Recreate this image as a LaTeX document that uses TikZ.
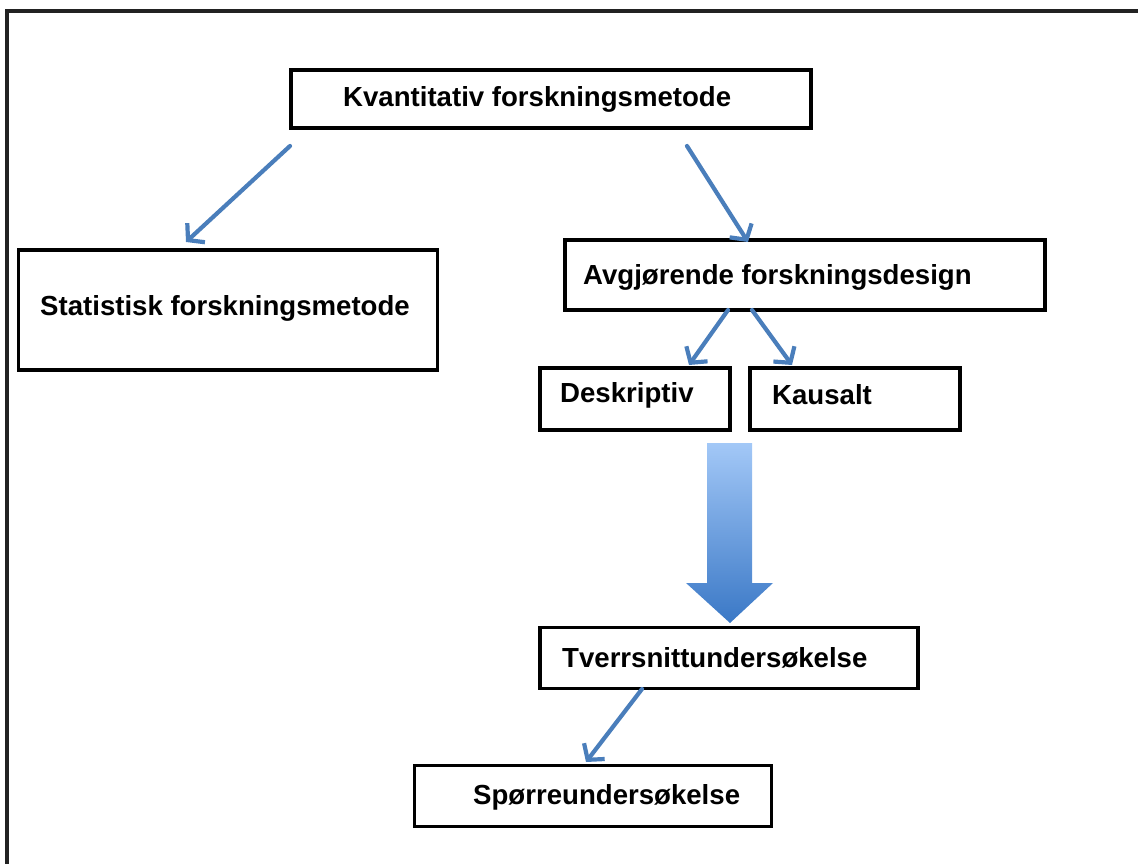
\documentclass[tikz,border=0pt]{standalone}
\usepackage{fontspec}
\setmainfont{Liberation Sans}
\usetikzlibrary{arrows.meta}
\definecolor{arrblue}{HTML}{4A7EBB}
\definecolor{fatTop}{HTML}{A3C8F7}
\definecolor{fatBot}{HTML}{3A78C6}
\definecolor{frame}{HTML}{222222}
\tikzset{
  box/.style={draw=black, line width=3.8pt, fill=white, inner sep=0pt},
  lbl/.style={anchor=west, inner sep=0pt, font=\fontsize{27.6}{31}\selectfont\bfseries},
  conn/.style={draw=arrblue, line width=4.2pt, line cap=round, -{Straight Barb[length=11pt,width=26pt,line width=4.2pt]}},
}
\begin{document}
\begin{tikzpicture}[x=1pt,y=-1pt]
\useasboundingbox (0,0) rectangle (1138,864);
% outer frame (top and left visible)
\draw[frame, line width=3.2pt] (7,870) -- (7,11) -- (1145,11);

% boxes
\node[box, minimum width=520pt, minimum height=58pt] (kvb) at (551,99) {};
\node[box, minimum width=419pt, minimum height=120pt] (stb) at (228,310) {};
\node[box, minimum width=480pt, minimum height=70pt] (avb) at (805,275) {};
\node[box, minimum width=190pt, minimum height=62pt] (deb) at (635,399) {};
\node[box, minimum width=210pt, minimum height=62pt] (kab) at (855,399) {};
\node[box, minimum width=378pt, minimum height=61pt] (tvb) at (729,658) {};
\node[box, minimum width=357pt, minimum height=61pt] (spb) at (593,796) {};

% labels
\node[lbl] (kv) at (343,99) {Kvantitativ forskningsmetode};
\node[lbl] (st) at (40,308) {Statistisk forskningsmetode};
\node[lbl] (av) at (583,277) {Avgjørende forskningsdesign};
\node[lbl] (de) at (560,395) {Deskriptiv};
\node[lbl] (ka) at (772,395) {Kausalt};
\node[lbl] (tv) at (562,658) {Tverrsnittundersøkelse};
\node[lbl] (sp) at (473,797) {Spørreundersøkelse};

% arrow end points
\coordinate (a1s) at (290,146);
\coordinate (a1e) at (186,242);
\coordinate (a2s) at (687,146);
\coordinate (a2e) at (748,242);
\coordinate (a3s) at (728,310);
\coordinate (a3e) at (689,365);
\coordinate (a4s) at (752,310);
\coordinate (a4e) at (792,365);
\coordinate (a5s) at (642,689);
\coordinate (a5e) at (586,762);

\draw[conn] (a1s) -- (a1e);
\draw[conn] (a2s) -- (a2e);
\draw[conn] (a3s) -- (a3e);
\draw[conn] (a4s) -- (a4e);
\draw[conn] (a5s) -- (a5e);

% big block arrow
\shade[top color=fatTop, bottom color=fatBot]
  (707,443) -- (752,443) -- (752,583) -- (773,583) -- (730,623) -- (686,583) -- (707,583) -- cycle;
\end{tikzpicture}
\end{document}
